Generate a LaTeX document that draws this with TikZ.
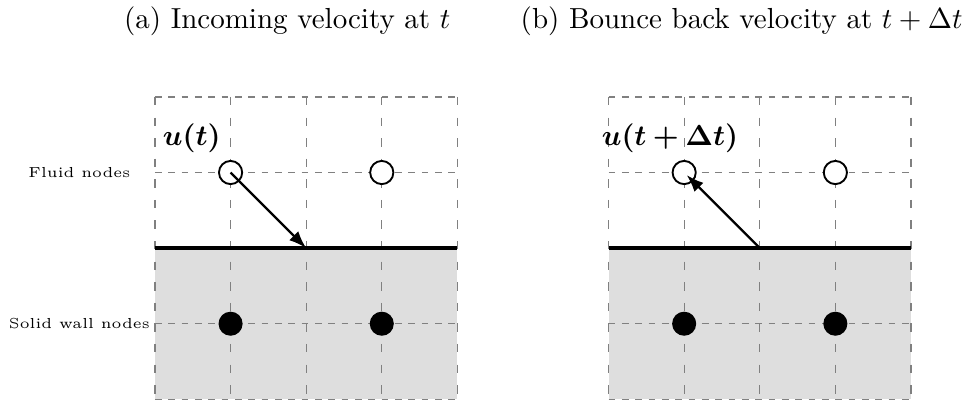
\documentclass[tikz,border=0pt]{standalone}
\usepackage{bm}
\usetikzlibrary{arrows.meta}
\begin{document}
\begin{tikzpicture}[x=26.07pt,y=26.07pt,
  hgridline/.style={gray,thin,dash pattern=on 2.3pt off 2.3pt},
  vgridline/.style={gray,thin,dash pattern=on 2.9pt off 4.2pt},
  wallline/.style={line width=1.15pt},
  fluidnode/.style={circle,draw,fill=white,line width=0.65pt,minimum size=8pt,inner sep=0pt},
  solidnode/.style={circle,fill=black,minimum size=8.3pt,inner sep=0pt},
  velarrow/.style={line width=0.8pt,-{Latex[length=6pt,width=4.4pt]}},
  sidelabel/.style={font=\tiny,anchor=center},
  titlelabel/.style={anchor=base},
  vellabel/.style={anchor=base}]
\useasboundingbox (-2.050,-0.01) rectangle (10.728,5.282);
% titles
\node[titlelabel] (ta) at (1.75,4.9) {(a) Incoming velocity at $t$};
\node[titlelabel] (tb) at (7.76,4.9) {(b) Bounce back velocity at $t+\Delta t$};
% side labels
\node[sidelabel] (lf) at (-1.0,3) {Fluid nodes};
\node[sidelabel] (ls) at (-1.0,1) {Solid wall nodes};
\foreach \ox/\nm in {0/A,6/B}{
  \begin{scope}[xshift=\ox*26.07pt]
    \fill[black!13] (0,0) rectangle (4,2);
    \foreach \xx in {0,1,2,3,4} \draw[vgridline] (\xx,4) -- (\xx,0);
    \foreach \yy in {0,1,3,4} \draw[hgridline] (0,\yy) -- (4,\yy);
    \draw[wallline] (0,2) -- (4,2);
    \node[fluidnode] (f\nm1) at (1,3) {};
    \node[fluidnode] (f\nm2) at (3,3) {};
    \node[solidnode] (s\nm1) at (1,1) {};
    \node[solidnode] (s\nm2) at (3,1) {};
    \coordinate (hit\nm) at (2,2);
  \end{scope}
}
\draw[velarrow] (fA1.center) -- (hitA);
\draw[velarrow,shorten >=1.2pt] (hitB) -- (fB1.center);
\node[vellabel] (ua) at (0.486,3.353) {$\bm{u(t)}$};
\node[vellabel] (ub) at (6.812,3.353) {$\bm{u(t+\Delta t)}$};
\end{tikzpicture}
\end{document}
